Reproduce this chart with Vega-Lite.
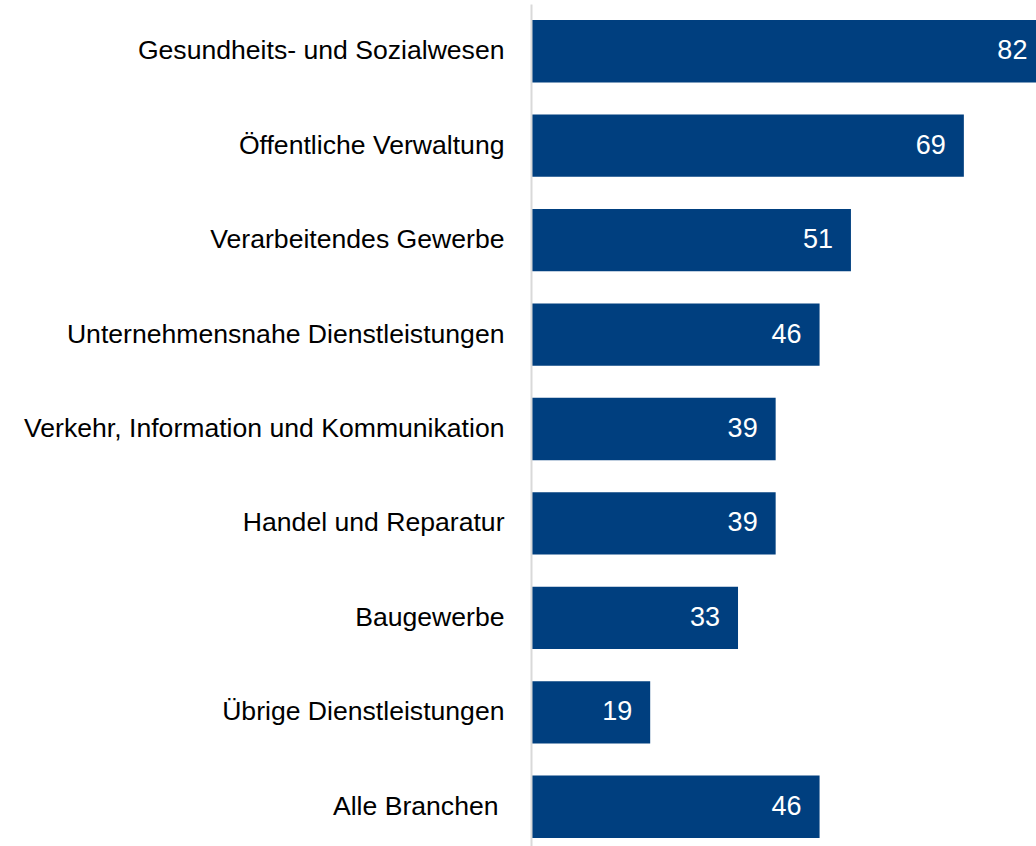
{
  "$schema": "https://vega.github.io/schema/vega-lite/v6.json",
  "width": 505,
  "height": 850,
  "autosize": {"type": "none"},
  "padding": {"left": 531, "top": 4, "right": 0, "bottom": 0},
  "background": "white",
  "config": {"view": {"stroke": null}, "font": "Liberation Sans"},
  "data": {
    "values": [
      {"branche": "Gesundheits- und Sozialwesen", "wert": 82},
      {"branche": "Öffentliche Verwaltung", "wert": 69},
      {"branche": "Verarbeitendes Gewerbe", "wert": 51},
      {"branche": "Unternehmensnahe Dienstleistungen", "wert": 46},
      {"branche": "Verkehr, Information und Kommunikation", "wert": 39},
      {"branche": "Handel und Reparatur", "wert": 39},
      {"branche": "Baugewerbe", "wert": 33},
      {"branche": "Übrige Dienstleistungen", "wert": 19},
      {"branche": "Alle Branchen", "wert": 46}
    ]
  },
  "encoding": {
    "y": {
      "field": "branche",
      "type": "nominal",
      "sort": null,
      "scale": {"paddingInner": 0.34, "paddingOuter": 0.17},
      "axis": {
        "title": null,
        "ticks": false,
        "zindex": 1,
        "labelFontSize": 26.6,
        "labelColor": "#000000",
        "labelPadding": {"condition": {"test": "datum.value == 'Alle Branchen'", "value": 33}, "value": 27},
        "labelLimit": 600,
        "domainColor": "#d9d9d9",
        "domainWidth": 2,
        "labelFont": "Liberation Sans"
      }
    },
    "x": {
      "field": "wert",
      "type": "quantitative",
      "scale": {"domain": [0, 80.5], "nice": false, "zero": true},
      "axis": null
    }
  },
  "layer": [
    {"mark": {"type": "bar", "color": "#003f7f", "clip": true}},
    {
      "mark": {
        "type": "text",
        "align": "right",
        "baseline": "middle",
        "dx": -18,
        "color": "white",
        "fontSize": 27,
        "font": "Liberation Sans"
      },
      "encoding": {"text": {"field": "wert", "type": "quantitative"}}
    }
  ]
}
